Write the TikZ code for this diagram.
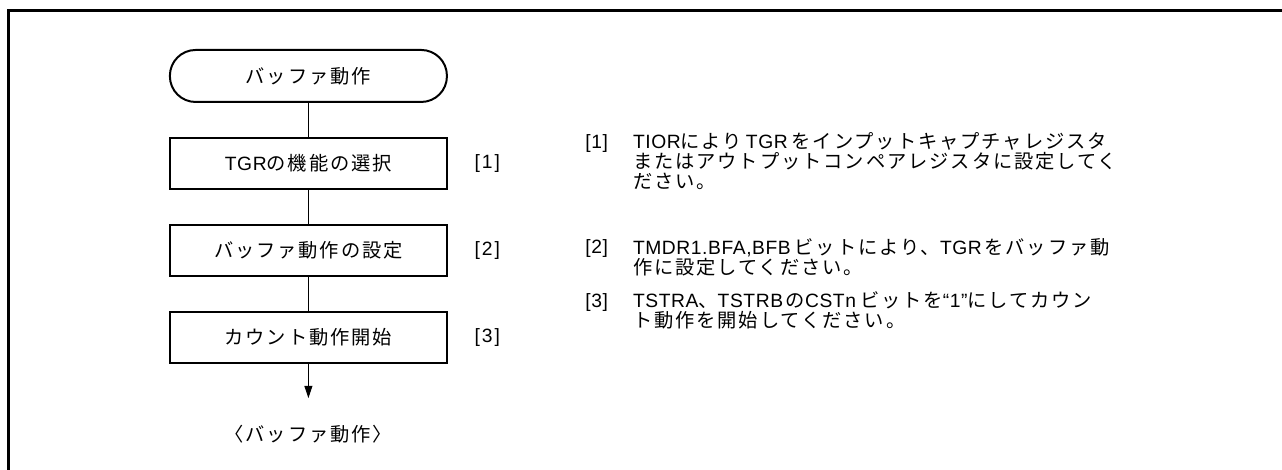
\documentclass[tikz,border=0pt]{standalone}
\usepackage{fontspec}
\setmainfont{Noto Sans CJK JP}[LetterSpace=10]
\newfontfamily\ltnfont{Liberation Sans}[LetterSpace=3]
\newcommand\ltn[1]{{\ltnfont #1}}
\newcommand\lnstrut{\rule{0pt}{13.5pt}}
\usetikzlibrary{positioning, arrows.meta}

\begin{document}
\begin{tikzpicture}[
  font=\fontsize{14.5pt}{15pt}\selectfont,
  node distance=9mm,
  every node/.append style={inner sep=0pt},
  termcard/.style={
    rectangle, rounded corners=6.8mm,
    draw, line width=1.5pt,
    minimum width=7.33cm, minimum height=1.376cm
  },
  stepcard/.style={
    rectangle,
    draw, line width=1.5pt,
    minimum width=7.33cm, minimum height=1.35cm
  },
  tagnote/.style={anchor=base west},
  notecard/.style={align=left},
  flowline/.style={line width=0.7pt}
]

% page and frame
\useasboundingbox (0,0) rectangle (33.92,-12.435);
\draw[line width=2.4pt] (0.22,-12.7) |- (34.2,-0.283);

% flow
\node[termcard] (start) at (8.16,-2.01) {バッファ動作};
\node[stepcard, below=of start] (sel) {\ltn{TGR}の機能の選択};
\node[stepcard, below=of sel] (buf) {バッファ動作の設定};
\node[stepcard, below=of buf] (cnt) {カウント動作開始};
\coordinate[below=of cnt] (tip);
\node[below=7mm of tip] (fin) {〈バッファ動作〉};

\draw[flowline] (start) -- (sel);
\draw[flowline] (sel) -- (buf);
\draw[flowline] (buf) -- (cnt);
\draw[flowline, -{Triangle[length=3.2mm, width=2.1mm]}] (cnt) -- (tip);

% step tags
\node[right=7mm of sel, anchor=west] (tag1) {\ltn{[\kern1.5pt1\kern1.5pt]}};
\node[right=7mm of buf, anchor=west] (tag2) {\ltn{[\kern1.5pt2\kern1.5pt]}};
\node[right=7mm of cnt, anchor=west] (tag3) {\ltn{[\kern1.5pt3\kern1.5pt]}};

% notes (first line hangs from the tag's baseline)
\node[tagnote] (ntag1) at (15.48,-3.916) {\ltn{[1]}};
\node[notecard, above right=13.5pt and 18.5pt of ntag1.base east, anchor=north west] (note1) {%
  \lnstrut\ltn{TIOR}により\hspace{3pt}\ltn{TGR}\hspace{3pt}をインプットキャプチャレジスタ\\
  またはアウトプットコンペアレジスタに設定してく\\
  ださい。
};

\node[tagnote] (ntag2) at (15.48,-6.72) {\ltn{[2]}};
\node[notecard, above right=13.5pt and 18.5pt of ntag2.base east, anchor=north west] (note2) {%
  \lnstrut\ltn{TMDR1.BFA,BFB}\hspace{3pt}ビットにより、\ltn{TGR}\hspace{2pt}をバッファ動\\
  作に設定してください。
};

\node[tagnote] (ntag3) at (15.48,-8.123) {\ltn{[3]}};
\node[notecard, above right=13.5pt and 18.5pt of ntag3.base east, anchor=north west] (note3) {%
  \lnstrut\ltn{TSTRA}、\ltn{TSTRB}\hspace{2pt}の\ltn{CSTn}\hspace{3pt}ビットを\ltn{“1”}にしてカウン\\
  ト動作を開始してください。
};

\end{tikzpicture}
\end{document}
